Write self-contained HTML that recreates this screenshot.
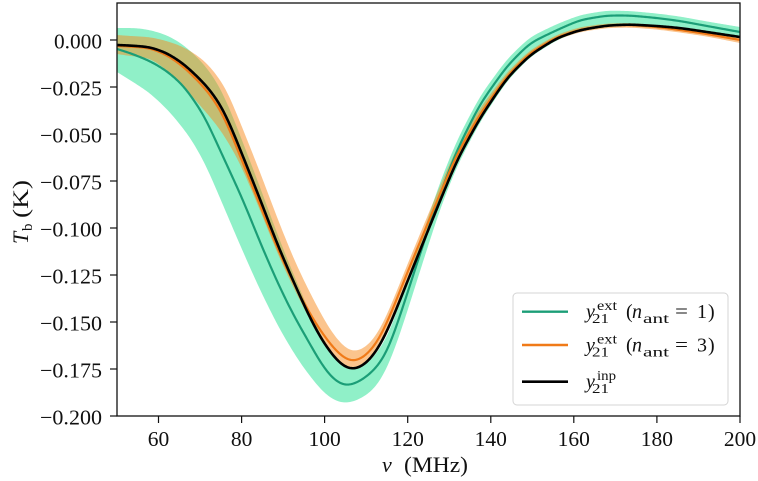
<!DOCTYPE html>
<html><head><meta charset="utf-8"><style>
html,body{margin:0;padding:0;background:#fff;}
svg{display:block;font-family:"Liberation Serif","DejaVu Serif",serif;}
</style></head><body>
<svg id="s" width="758" height="481" viewBox="0 0 758 481" xmlns="http://www.w3.org/2000/svg">
<defs><clipPath id="cp"><rect x="117" y="3" width="623" height="413"/></clipPath></defs>
<rect width="758" height="481" fill="#fff"/>
<g clip-path="url(#cp)">
<polygon class="sm" fill="#90f0c8" stroke="none" points="117,28 137,28 150,30 167,35 184,45 204,64 217,82 227,102 240,135 260,187 278,236 295,278 310,313 320,333 330,352 340,366 350,371 360,369 370,361 378,352 385,341 390,331 400,303 410,272 420,242 430,212 440,182 457,140 480,96 507,59 530,37 557,24 580,15 607,10.5 630,11 657,13.5 680,16.5 707,21.5 740,27 740,38 707,33 680,29 657,27 630,25 607,26 580,31 557,40 530,57 507,81 480,122 457,166 440,209 430,240 420,271 410,303 400,334 390,362 380,382 370,393 360,399 350,403 340,403 330,398 320,389 300,363 280,330 260,290 240,245 223,205 205,163 190,137 170,112 150,93 130,80 117,72"/>
<polygon class="sm" fill="#f7891c" fill-opacity="0.5" stroke="none" points="117,35 130,36 150,37 167,41 184,47 204,60 217,75 227,90 240,122 260,172 278,220 295,262 310,293 320,312 330,330 340,343 350,352 360,351 370,344 380,330 390,308 400,283 410,258 425,222 440,186 457,147 480,108 507,72 530,50 557,34.5 580,27 607,23.5 630,23 657,25 680,28 707,32 740,37 740,43 707,36.5 680,32.5 657,29.5 630,27.5 607,28 580,32 557,39.5 530,56 507,80 480,119 457,160 440,201 425,238 410,274 400,299 390,324 380,346 370,360 360,368 350,370 340,364 330,353 320,338 310,320 295,291 278,255 260,210 240,163 227,140 217,125 204,110 184,87 167,70 150,58 130,56 117,54"/>
<polyline class="sm" fill="none" stroke="#1b9e77" stroke-width="2.2" points="117,49 130,53 150,61 167,71 184,86 204,115 220,150 243,200 262,247 280,288 295,318 310,344 320,362 330,376 338,383 345,386 352,385 362,380 370,374 378,366 385,356 390,345 400,316 410,285 420,254 430,224 440,194 457,150 480,104 507,66 530,43 557,30 580,20 607,15.5 630,15.5 657,18 680,21 707,26 740,32"/>
<polyline class="sm" fill="none" stroke="#f07a18" stroke-width="2.2" points="117,46 130,46.5 150,48 167,55 184,67 204,87 217,104 227,123 240,156 260,205 278,250 295,286 310,314 320,330 330,344 340,355 350,362 360,360 370,352 380,338 390,316 400,291 410,266 425,230 440,194 457,154 480,114 507,76 530,53 557,37 580,29.5 607,25.5 630,25 657,27 680,30 707,34 740,40"/>
<polyline class="sm" fill="none" stroke="#000" stroke-width="2.6" points="117,45 130,45.5 150,47 167,53 184,64 204,83 217,99 227,117 240,149 260,199 278,246 295,285 310,318 320,337 330,352 340,364 350,370 360,368 370,360 380,346 390,325 400,300 410,275 425,238 440,201 457,160 480,118 507,78 530,55 557,38 580,30 607,25.5 630,24.5 657,26 680,28 707,32 740,37"/>
</g>
<rect x="117" y="3" width="623" height="413" fill="none" stroke="#111" stroke-width="1.3"/>
<g stroke="#111" stroke-width="1.2">
<line x1="110" y1="40" x2="117" y2="40"/><line x1="110" y1="87" x2="117" y2="87"/><line x1="110" y1="134" x2="117" y2="134"/><line x1="110" y1="181" x2="117" y2="181"/><line x1="110" y1="228" x2="117" y2="228"/><line x1="110" y1="275" x2="117" y2="275"/><line x1="110" y1="322" x2="117" y2="322"/><line x1="110" y1="369" x2="117" y2="369"/><line x1="110" y1="416" x2="117" y2="416"/>
<line x1="158.5" y1="416" x2="158.5" y2="423"/><line x1="241.6" y1="416" x2="241.6" y2="423"/><line x1="324.6" y1="416" x2="324.6" y2="423"/><line x1="407.7" y1="416" x2="407.7" y2="423"/><line x1="490.8" y1="416" x2="490.8" y2="423"/><line x1="573.8" y1="416" x2="573.8" y2="423"/><line x1="656.9" y1="416" x2="656.9" y2="423"/><line x1="740" y1="416" x2="740" y2="423"/>
</g>
<g font-size="21.5" fill="#111" text-anchor="end">
<text x="102" y="48.5" textLength="48" lengthAdjust="spacingAndGlyphs">0.000</text>
<text x="102" y="95.5" textLength="62" lengthAdjust="spacingAndGlyphs">−0.025</text>
<text x="102" y="142.5" textLength="62" lengthAdjust="spacingAndGlyphs">−0.050</text>
<text x="102" y="189.5" textLength="62" lengthAdjust="spacingAndGlyphs">−0.075</text>
<text x="102" y="236.5" textLength="62" lengthAdjust="spacingAndGlyphs">−0.100</text>
<text x="102" y="283.5" textLength="62" lengthAdjust="spacingAndGlyphs">−0.125</text>
<text x="102" y="330.5" textLength="62" lengthAdjust="spacingAndGlyphs">−0.150</text>
<text x="102" y="377.5" textLength="62" lengthAdjust="spacingAndGlyphs">−0.175</text>
<text x="102" y="424.5" textLength="62" lengthAdjust="spacingAndGlyphs">−0.200</text>
</g>
<g font-size="21.5" fill="#111" text-anchor="middle">
<text x="158.5" y="446">60</text><text x="241.6" y="446">80</text><text x="324.6" y="446">100</text><text x="407.7" y="446">120</text><text x="490.8" y="446">140</text><text x="573.8" y="446">160</text><text x="656.9" y="446">180</text><text x="740" y="446">200</text>
</g>
<g font-size="22" fill="#111">
<text x="382" y="472" font-style="italic">ν</text>
<text x="404" y="472" textLength="64" lengthAdjust="spacingAndGlyphs">(MHz)</text>
</g>
<g transform="translate(28,212) rotate(-90)" font-size="22" fill="#111">
<text x="-32" y="0" font-style="italic">T</text>
<text x="-19" y="4" font-size="15">b</text>
<text x="-6" y="0" textLength="38" lengthAdjust="spacingAndGlyphs">(K)</text>
</g>
<rect x="513" y="293" width="215" height="112" rx="4" ry="4" fill="#fff" fill-opacity="0.85" stroke="#d4d4d4" stroke-width="1"/>
<line x1="522" y1="311.7" x2="568" y2="311.7" stroke="#1b9e77" stroke-width="2.4"/>
<line x1="522" y1="345" x2="568" y2="345" stroke="#f07a18" stroke-width="2.4"/>
<line x1="522" y1="381.7" x2="568" y2="381.7" stroke="#000" stroke-width="2.6"/>
<g fill="#111" font-size="20">
<text x="586" y="318" font-style="italic">y</text>
<text x="597" y="310" font-size="14" textLength="20" lengthAdjust="spacingAndGlyphs">ext</text>
<text x="592" y="323" font-size="14" textLength="17" lengthAdjust="spacingAndGlyphs">21</text>
<text x="626" y="318">(</text>
<text x="632" y="318" font-style="italic">n</text>
<text x="643" y="323" font-size="14" textLength="26" lengthAdjust="spacingAndGlyphs">ant</text>
<text x="675" y="318" textLength="13" lengthAdjust="spacingAndGlyphs">=</text>
<text x="697" y="318">1</text>
<text x="708" y="318">)</text>

<text x="586" y="351.3" font-style="italic">y</text>
<text x="597" y="343.3" font-size="14" textLength="20" lengthAdjust="spacingAndGlyphs">ext</text>
<text x="592" y="356.3" font-size="14" textLength="17" lengthAdjust="spacingAndGlyphs">21</text>
<text x="626" y="351.3">(</text>
<text x="632" y="351.3" font-style="italic">n</text>
<text x="643" y="356.3" font-size="14" textLength="26" lengthAdjust="spacingAndGlyphs">ant</text>
<text x="675" y="351.3" textLength="13" lengthAdjust="spacingAndGlyphs">=</text>
<text x="697" y="351.3">3</text>
<text x="708" y="351.3">)</text>

<text x="586" y="388" font-style="italic">y</text>
<text x="597" y="380" font-size="14" textLength="19" lengthAdjust="spacingAndGlyphs">inp</text>
<text x="592" y="393" font-size="14" textLength="17" lengthAdjust="spacingAndGlyphs">21</text>
</g>
</svg>
<script>
(function(){
var ns="http://www.w3.org/2000/svg";
var X0=95,X1=762,SIG=6;
function lin(p,x){
 var n=p.length;
 if(x<=p[0][0]){var s=(p[1][1]-p[0][1])/(p[1][0]-p[0][0]);return p[0][1]+s*(x-p[0][0]);}
 if(x>=p[n-1][0]){var s2=(p[n-1][1]-p[n-2][1])/(p[n-1][0]-p[n-2][0]);return p[n-1][1]+s2*(x-p[n-1][0]);}
 for(var i=0;i<n-1;i++){if(x>=p[i][0]&&x<=p[i+1][0]){var t=(x-p[i][0])/(p[i+1][0]-p[i][0]);return p[i][1]+t*(p[i+1][1]-p[i][1]);}}
 return p[n-1][1];
}
function smooth(p){
 var raw=[],x;
 for(x=X0;x<=X1;x++)raw.push(lin(p,x));
 var R=Math.ceil(SIG*3),w=[],ws=0,k;
 for(k=-R;k<=R;k++){var v=Math.exp(-k*k/(2*SIG*SIG));w.push(v);ws+=v;}
 var out=[];
 for(var i=0;i<raw.length;i++){
  var s=0,tw=0;
  for(k=-R;k<=R;k++){var j=i+k;if(j<0||j>=raw.length)continue;s+=raw[j]*w[k+R];tw+=w[k+R];}
  out.push([X0+i,s/tw]);
 }
 return out.filter(function(q){return q[0]>=113&&q[0]<=744;});
}
function toD(a){return a.map(function(q,i){return (i?"L":"M")+q[0]+","+q[1].toFixed(2);}).join(" ");}
var els=document.querySelectorAll(".sm");
for(var i=0;i<els.length;i++){
 var el=els[i];
 var raw=el.getAttribute("points").trim().split(/\s+/);
 var p=raw.map(function(s){var a=s.split(",");return [parseFloat(a[0]),parseFloat(a[1])];});
 var closed=el.tagName.toLowerCase()==="polygon";
 var d;
 if(closed){
  var idx=0;for(var m=0;m<p.length;m++){if(p[m][0]>=740){idx=m;break;}}
  var top=p.slice(0,idx+1),bot=p.slice(idx+1).reverse();
  var st=smooth(top),sb=smooth(bot).reverse();
  d=toD(st.concat(sb))+" Z";
 } else {
  d=toD(smooth(p));
 }
 var path=document.createElementNS(ns,"path");
 path.setAttribute("d",d);
 ["fill","fill-opacity","stroke","stroke-width"].forEach(function(a){var v=el.getAttribute(a);if(v!==null)path.setAttribute(a,v);});
 path.setAttribute("stroke-linejoin","round");
 el.parentNode.replaceChild(path,el);
}
})();
</script>
</body></html>
